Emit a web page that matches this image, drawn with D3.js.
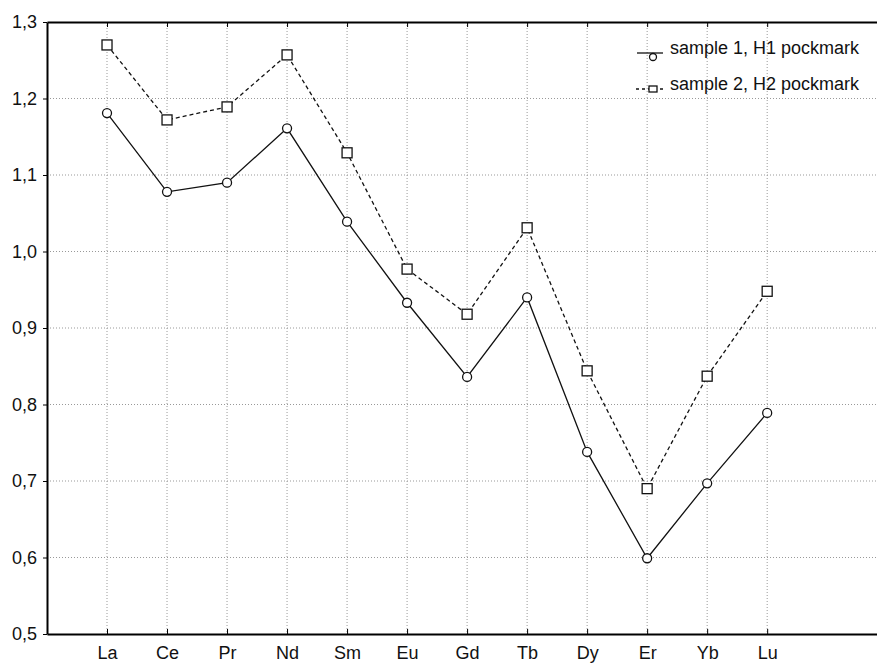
<!DOCTYPE html>
<html>
<head>
<meta charset="utf-8">
<script src="https://cdn.jsdelivr.net/npm/d3@7"></script>
<style>
  body { margin: 0; background: #fff; }
  text { font-family: "Liberation Sans", Arial, sans-serif; fill: #111; }
</style>
</head>
<body>
<div id="chart"></div>
<script>
// REE values
const elements = ["La", "Ce", "Pr", "Nd", "Sm", "Eu", "Gd", "Tb", "Dy", "Er", "Yb", "Lu"];
const sample1 = [1.181, 1.078, 1.090, 1.161, 1.039, 0.933, 0.836, 0.940, 0.738, 0.599, 0.697, 0.789];
const sample2 = [1.270, 1.172, 1.189, 1.257, 1.129, 0.977, 0.918, 1.031, 0.844, 0.690, 0.837, 0.948];
const yTicks = [0.5, 0.6, 0.7, 0.8, 0.9, 1.0, 1.1, 1.2, 1.3];
const seriesNames = ["sample 1, H1 pockmark", "sample 2, H2 pockmark"];

const W = 877, H = 664;
const plotLeft = 47, plotTop = 22, plotBottom = 634;

let svg = d3.select("#chart").append("svg")
  .attr("width", W).attr("height", H);

let x = d3.scaleLinear().domain([0, 13.83]).range([plotLeft, W]);
let y = d3.scaleLinear().domain([0.5, 1.3]).range([plotBottom, plotTop]);
let fmt = v => d3.format(".1f")(v).replace(".", ",");

// grid
svg.append("g").selectAll("line").data(elements).enter().append("line")
  .attr("x1", (d, i) => x(i + 1)).attr("x2", (d, i) => x(i + 1))
  .attr("y1", plotTop).attr("y2", plotBottom)
  .attr("stroke", "#999").attr("stroke-width", 1).attr("stroke-dasharray", "1,2");
svg.append("g").selectAll("line").data(yTicks.slice(1, -1)).enter().append("line")
  .attr("x1", plotLeft).attr("x2", W)
  .attr("y1", d => y(d)).attr("y2", d => y(d))
  .attr("stroke", "#999").attr("stroke-width", 1).attr("stroke-dasharray", "1,2");

// axes
let xAxis = d3.axisBottom(x).tickValues(d3.range(1, 13))
  .tickFormat(i => elements[i - 1]).tickSizeInner(-5).tickSizeOuter(0).tickPadding(12);
let gx = svg.append("g").attr("transform", `translate(0,${plotBottom})`).call(xAxis);
gx.select(".domain").attr("stroke", "#000").attr("stroke-width", 2);
gx.selectAll("text").attr("font-size", 18).attr("fill", "#111");

let xTop = d3.axisTop(x).tickValues(d3.range(1, 13)).tickFormat("").tickSizeInner(-5).tickSizeOuter(0);
let gt = svg.append("g").attr("transform", `translate(0,${plotTop})`).call(xTop);
gt.select(".domain").attr("stroke", "#000").attr("stroke-width", 2);

let yAxis = d3.axisLeft(y).tickValues(yTicks).tickFormat(fmt).tickSizeInner(4).tickSizeOuter(0).tickPadding(6);
let gy = svg.append("g").attr("transform", `translate(${plotLeft},0)`).call(yAxis);
gy.select(".domain").attr("stroke", "#000").attr("stroke-width", 2);
gy.selectAll("text").attr("font-size", 18).attr("fill", "#111");

// lines
let line = d3.line().x((d, i) => x(i + 1)).y(d => y(d));
svg.append("path").datum(sample1).attr("d", line)
  .attr("fill", "none").attr("stroke", "#111").attr("stroke-width", 1.3);
svg.append("path").datum(sample2).attr("d", line)
  .attr("fill", "none").attr("stroke", "#111").attr("stroke-width", 1.3)
  .attr("stroke-dasharray", "4,3");

// markers
svg.append("g").selectAll("circle").data(sample1).enter().append("circle")
  .attr("cx", (d, i) => x(i + 1)).attr("cy", d => y(d)).attr("r", 4.5)
  .attr("fill", "#fff").attr("stroke", "#111").attr("stroke-width", 1.3);
svg.append("g").selectAll("rect").data(sample2).enter().append("rect")
  .attr("x", (d, i) => x(i + 1) - 5).attr("y", d => y(d) - 5)
  .attr("width", 10).attr("height", 10)
  .attr("fill", "#fff").attr("stroke", "#111").attr("stroke-width", 1.3);

// legend
let lg = svg.append("g");
lg.append("line").attr("x1", 637).attr("x2", 663).attr("y1", 53).attr("y2", 53)
  .attr("stroke", "#111").attr("stroke-width", 1.3);
lg.append("circle").attr("cx", 653).attr("cy", 57).attr("r", 3.5)
  .attr("fill", "#fff").attr("stroke", "#111").attr("stroke-width", 1.3);
lg.append("line").attr("x1", 636).attr("x2", 663).attr("y1", 89).attr("y2", 89)
  .attr("stroke", "#111").attr("stroke-width", 1.3).attr("stroke-dasharray", "3,3");
lg.append("rect").attr("x", 649).attr("y", 86).attr("width", 8).attr("height", 6)
  .attr("fill", "#fff").attr("stroke", "#111").attr("stroke-width", 1.3);
lg.selectAll("text.lab").data(seriesNames).enter().append("text")
  .attr("class", "lab")
  .attr("x", 670).attr("y", (d, i) => 54 + i * 36)
  .attr("font-size", 18).text(d => d);
</script>
</body>
</html>
